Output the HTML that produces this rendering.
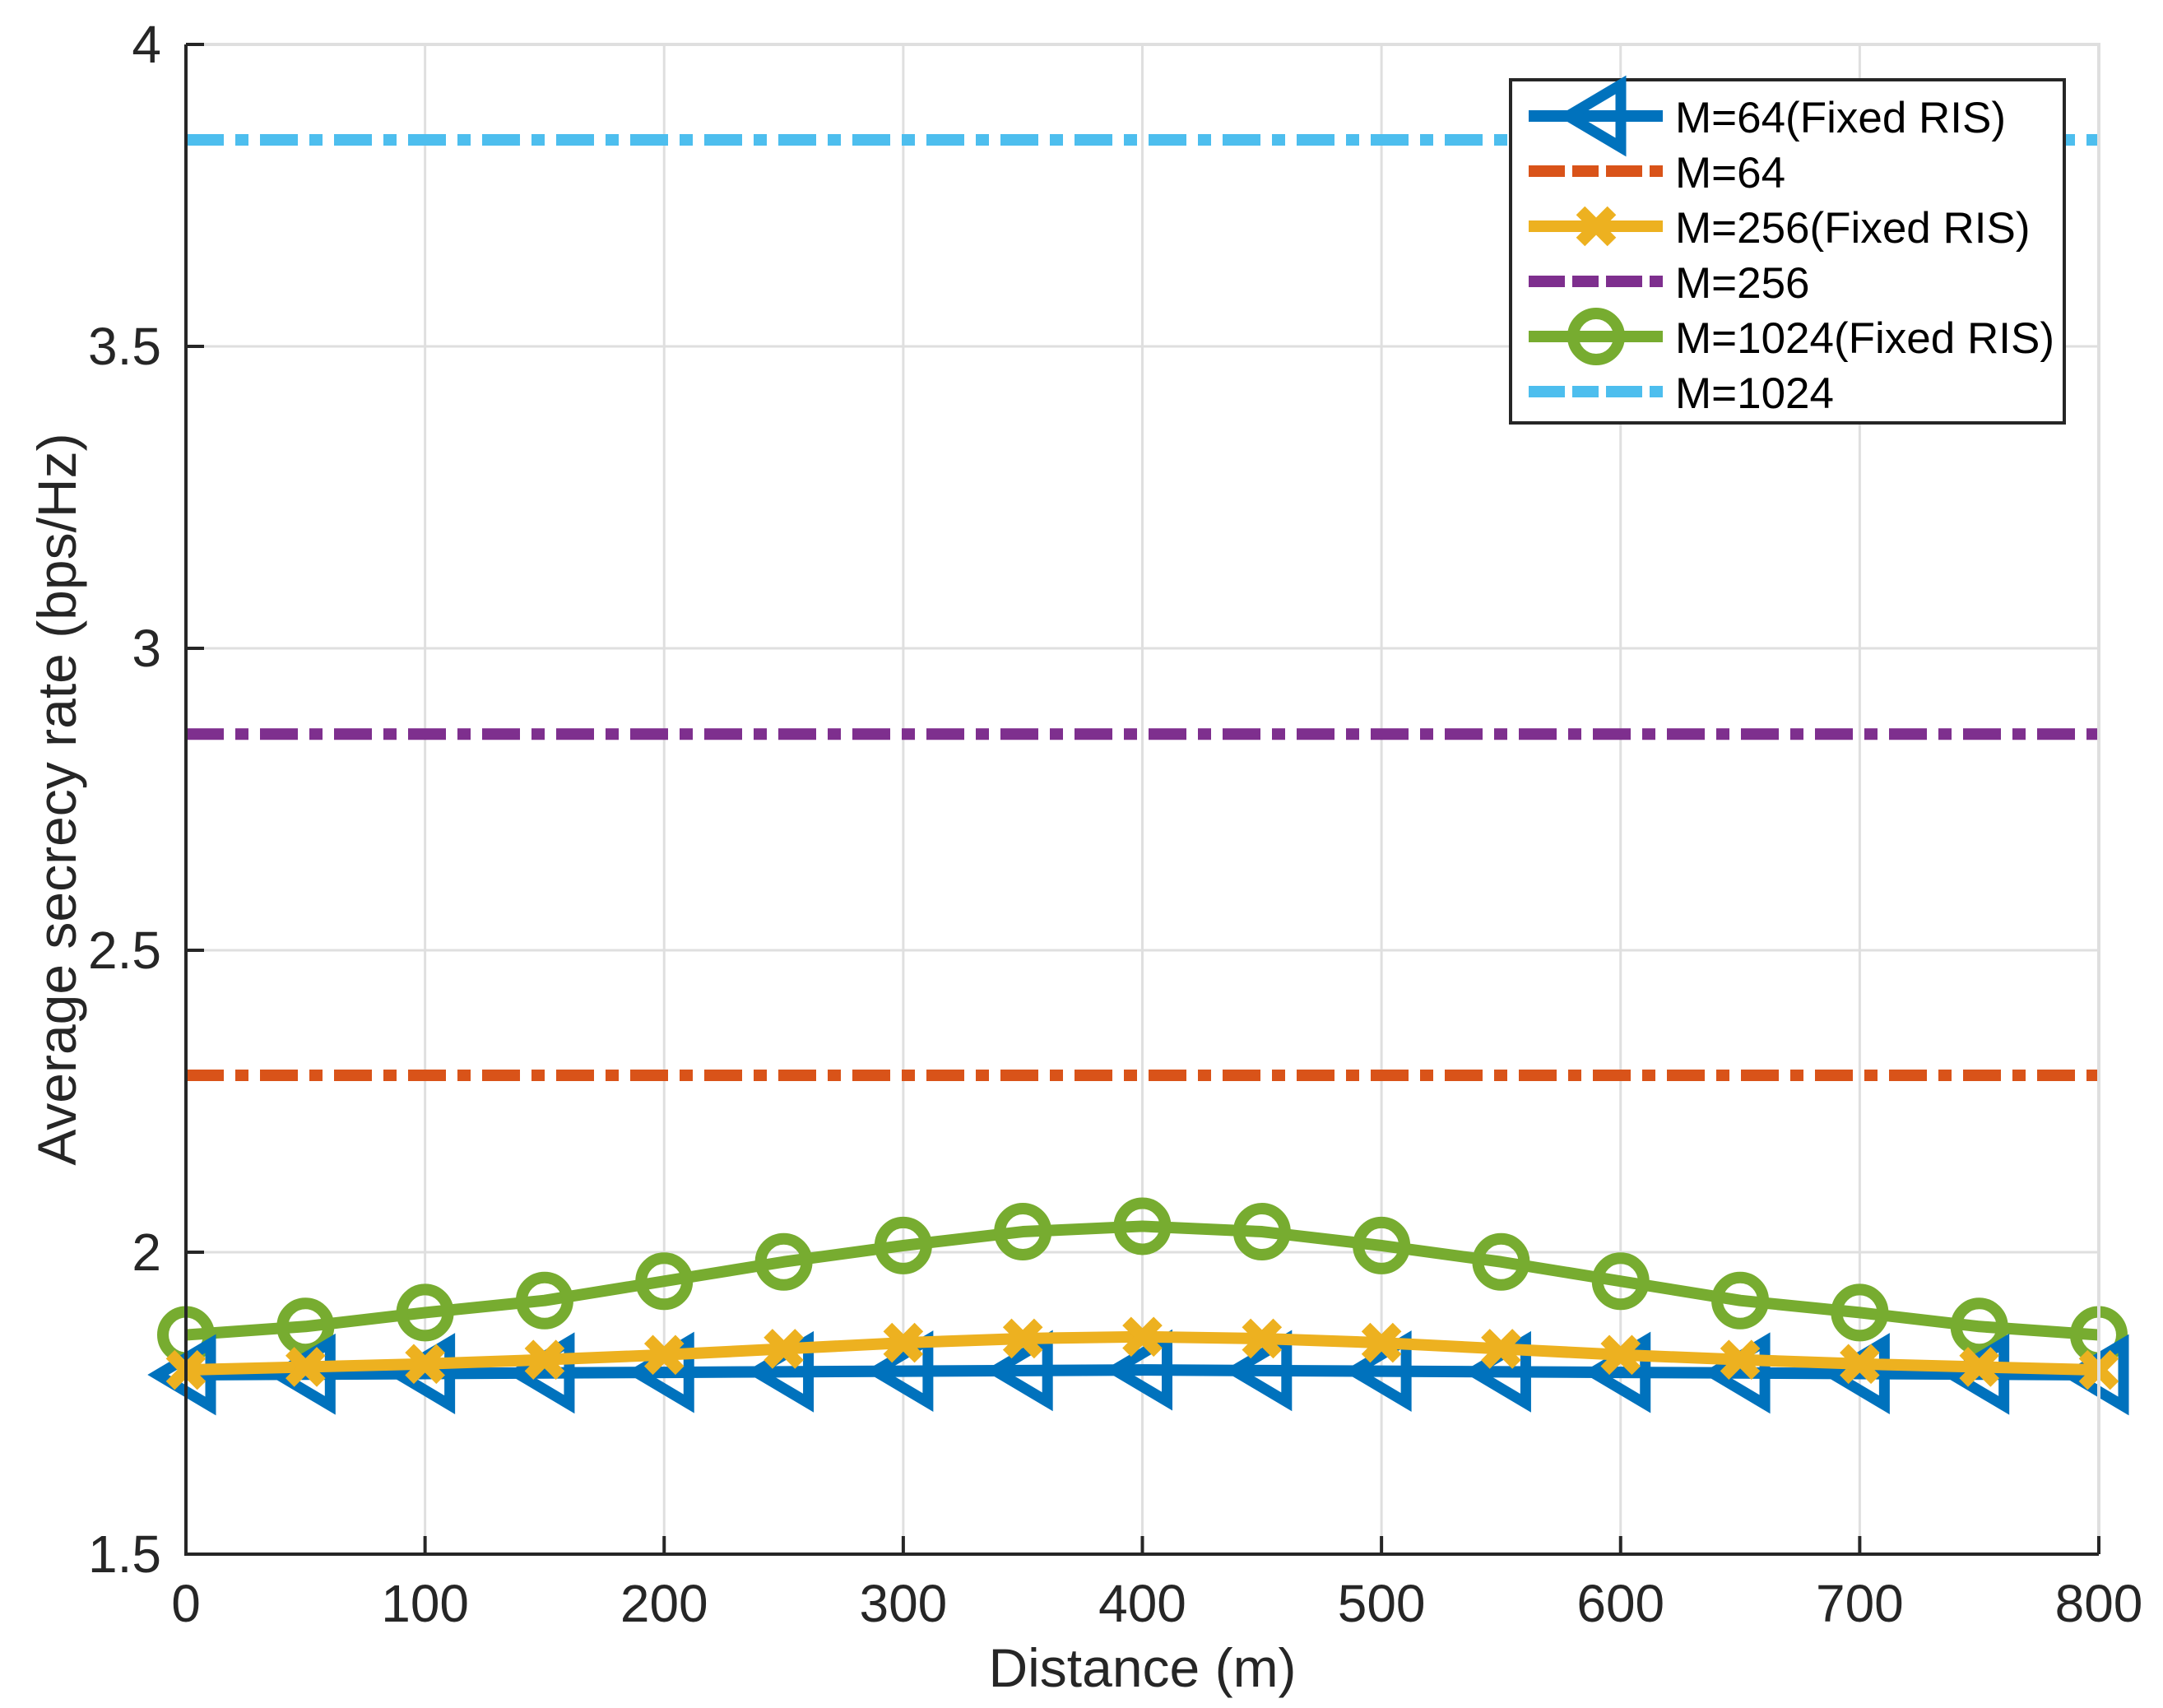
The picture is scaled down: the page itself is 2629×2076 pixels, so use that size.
<!DOCTYPE html>
<html><head><meta charset="utf-8"><style>html,body{margin:0;padding:0;background:#fff}svg{display:block}</style></head>
<body>
<svg id="chart" width="2629" height="2076" viewBox="0 0 2629 2076" xmlns="http://www.w3.org/2000/svg" font-family="'Liberation Sans', sans-serif">
<g id="grid"></g>
<g id="series"></g>
<g id="axes"></g>
<g id="legend"></g>
</svg>
<script>
const distances = [0,50,100,150,200,250,300,350,400,450,500,550,600,650,700,750,800];
const m64Fixed = [1.797,1.798,1.799,1.800,1.801,1.802,1.803,1.804,1.805,1.804,1.803,1.802,1.801,1.800,1.799,1.798,1.797];
const m256Fixed = [1.805,1.810,1.815,1.822,1.830,1.840,1.850,1.857,1.860,1.857,1.850,1.840,1.830,1.822,1.815,1.810,1.805];
const m1024Fixed = [1.863,1.877,1.900,1.920,1.952,1.984,2.011,2.034,2.043,2.034,2.011,1.984,1.952,1.920,1.900,1.877,1.863];
const m64 = 2.293;
const m256 = 2.858;
const m1024 = 3.842;
const xTicks = [0,100,200,300,400,500,600,700,800];
const yTicks = [1.5,2,2.5,3,3.5,4];
const yTickLabels = ["1.5","2","2.5","3","3.5","4"];
const legendLabels = ["M=64(Fixed RIS)","M=64","M=256(Fixed RIS)","M=256","M=1024(Fixed RIS)","M=1024"];

const L=226,R=2551,T=54,B=1889;
const x=v=>L+(v-0)/(800-0)*(R-L);
const y=v=>B-(v-1.5)/(4-1.5)*(B-T);
const NS="http://www.w3.org/2000/svg";
function mk(tag,attrs,parent){const e=document.createElementNS(NS,tag);for(const k in attrs)e.setAttribute(k,attrs[k]);parent.appendChild(e);return e;}
const grid=document.getElementById('grid'),series=document.getElementById('series'),axes=document.getElementById('axes'),legend=document.getElementById('legend');

xTicks.forEach(t=>{const l=mk('line',{x1:x(t),x2:x(t),y1:T,y2:B,stroke:'#dfdfdf','stroke-width':3},grid);

});
yTicks.forEach(t=>{const l=mk('line',{x1:L,x2:R,y1:y(t),y2:y(t),stroke:'#dfdfdf','stroke-width':3},grid);

});

const DASH="46 14 16 14";
function hline(v,color,name){const l=mk('line',{x1:L,x2:R,y1:y(v),y2:y(v),stroke:color,'stroke-width':14,'stroke-dasharray':DASH},series);

}
hline(m64,'#d95319','line-m64');
hline(m256,'#7e2f8e','line-m256');
hline(m1024,'#4dbeee','line-m1024');

function tri(cx,cy,color,parent){const p=mk('polygon',{points:`${cx-34},${cy} ${cx+30},${cy-38} ${cx+30},${cy+38}`,fill:'none',stroke:color,'stroke-width':13},parent);return p;}
function cross(cx,cy,color,parent){const g=mk('g',{},parent);const d=19;mk('path',{d:`M${cx-d},${cy-d}L${cx+d},${cy+d}M${cx-d},${cy+d}L${cx+d},${cy-d}`,stroke:color,'stroke-width':15,fill:'none'},g);return g;}
function circ(cx,cy,color,parent){return mk('circle',{cx:cx,cy:cy,r:28,fill:'none',stroke:color,'stroke-width':14},parent);}

function drawSeries(vals,color,marker,name){
  const g=mk('g',{},series);
  
  
  const pts=distances.map((d,i)=>x(d)+','+y(vals[i])).join(' ');
  mk('polyline',{points:pts,fill:'none',stroke:color,'stroke-width':14,'stroke-linejoin':'round'},g);
  distances.forEach((d,i)=>{const m=marker(x(d),y(vals[i]),color,g);
  
  });
}
drawSeries(m1024Fixed,'#77ac30',circ,'series-m1024-fixed');
drawSeries(m64Fixed,'#0072bd',tri,'series-m64-fixed');
drawSeries(m256Fixed,'#edb120',cross,'series-m256-fixed');

mk('path',{d:`M${L},${T}H${R}V${B}`,fill:'none',stroke:'#dfdfdf','stroke-width':4},axes);
const ax=mk('path',{d:`M${L},${T}V${B}H${R}`,fill:'none',stroke:'#262626','stroke-width':4},axes);


xTicks.forEach(t=>{mk('line',{x1:x(t),x2:x(t),y1:B,y2:B-22,stroke:'#262626','stroke-width':4},axes);
const tx=mk('text',{x:x(t),y:B+82,'font-size':64,fill:'#262626','text-anchor':'middle'},axes);tx.textContent=t;

});
yTicks.forEach((t,i)=>{mk('line',{x1:L,x2:L+22,y1:y(t),y2:y(t),stroke:'#262626','stroke-width':4},axes);
const tx=mk('text',{x:L-30,y:y(t)+22,'font-size':64,fill:'#262626','text-anchor':'end'},axes);tx.textContent=yTickLabels[i];

});
const xl=mk('text',{x:(L+R)/2,y:2050,'font-size':66,fill:'#262626','text-anchor':'middle'},axes);xl.textContent='Distance (m)';


const yl=mk('text',{x:0,y:0,'font-size':66,fill:'#262626','text-anchor':'middle',transform:`translate(92,${(T+B)/2}) rotate(-90)`},axes);yl.textContent='Average secrecy rate (bps/Hz)';



const lb=mk('rect',{x:1836,y:97,width:673,height:417,fill:'#fff',stroke:'#262626','stroke-width':4},legend);


const lcolors=['#0072bd','#d95319','#edb120','#7e2f8e','#77ac30','#4dbeee'];
const lmarkers=[tri,null,cross,null,circ,null];
legendLabels.forEach((lab,i)=>{
  const g=mk('g',{},legend);
  
  
  const cy=141+i*67;
  mk('line',{x1:1858,x2:2021,y1:cy,y2:cy,stroke:lcolors[i],'stroke-width':14,'stroke-dasharray':lmarkers[i]?'none':'44 9 32 9'},g);
  if(lmarkers[i]) lmarkers[i](1940,cy,lcolors[i],g);
  const t=mk('text',{x:2036,y:cy+20,'font-size':53,fill:'#000'},g);t.textContent=lab;
});
</script>
</body></html>
